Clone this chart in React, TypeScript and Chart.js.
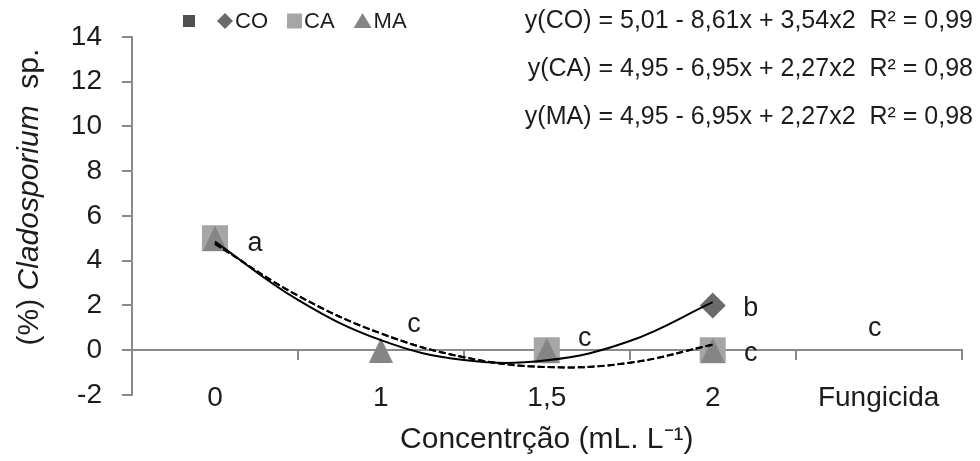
import React, { useEffect, useRef } from 'react';
import { Chart, registerables } from 'chart.js';

Chart.register(...registerables);

// ---------- data ----------
const categories = ['0', '1', '1,5', '2', 'Fungicida'];
const seriesNames = ['', 'CO', 'CA', 'MA'];
const blankValues: (number | null)[] = [null, null, null, null, null];
const coValues: (number | null)[] = [5, null, 0, 2, null];
const caValues: (number | null)[] = [5, null, 0, 0, null];
const maValues: (number | null)[] = [5, 0, 0, 0, null];
// polynomial trend lines (x = category position)
const trendX = [0, 0.5, 1, 1.5, 2, 2.5, 3];
const coTrend = [4.85, 2.25, 0.45, -0.44, -0.45, 0.41, 2.15];
const caTrend = [4.75, 2.44, 0.75, -0.31, -0.75, -0.56, 0.25];
const maTrend = [4.75, 2.44, 0.75, -0.31, -0.75, -0.56, 0.25];
const yMin = -2;
const yMax = 14;
const yStep = 2;
const equations = [
  'y(CO) = 5,01 - 8,61x + 3,54x2  R² = 0,99',
  'y(CA) = 4,95 - 6,95x + 2,27x2  R² = 0,98',
  'y(MA) = 4,95 - 6,95x + 2,27x2  R² = 0,98',
];
const sigLetters = ['a', 'c', 'c', 'b', 'c', 'c'];
const sigCats = [0, 1, 2, 3, 3, 4];
const sigValues = [4.75, 1.14, 0.54, 1.87, -0.15, 0.97];
const xTitle = 'Concentrção (mL. L⁻¹)';
const yTitleParts = ['(%) ', 'Cladosporium', '  sp.'];

// ---------- styles ----------
const FONT = '"Liberation Sans", Arial, sans-serif';
const TEXT = '#1c1c1c';
const AXIS = '#8a8a8a';
const C_DARK = '#505050';
const C_DIAMOND = '#6a6a6a';
const C_SQUARE = '#a6a6a6';
const C_TRI = '#858585';
const sigDx = [40, 33, 38, 38, 38, -4];
const eqY = [21, 69, 117];

function makeTriangle(w: number, h: number, color: string) {
  const c = document.createElement('canvas');
  c.width = w;
  c.height = h;
  const g = c.getContext('2d')!;
  g.fillStyle = color;
  g.beginPath();
  g.moveTo(0, h);
  g.lineTo(w / 2, 0);
  g.lineTo(w, h);
  g.closePath();
  g.fill();
  return c;
}

const overlayPlugin = {
  id: 'overlay',
  afterDraw(chart: any) {
    const ctx = chart.ctx as CanvasRenderingContext2D;
    const xs = chart.scales.x;
    const ys = chart.scales.y;
    ctx.save();
    ctx.fillStyle = TEXT;

    // legend
    const styles = [
      { shape: 'rect', color: C_DARK, size: 12 },
      { shape: 'diamond', color: C_DIAMOND, size: 16 },
      { shape: 'rect', color: C_SQUARE, size: 15 },
      { shape: 'triangle', color: C_TRI, size: 18 },
    ];
    let lx = 183;
    const ly = 21;
    ctx.font = `22px ${FONT}`;
    ctx.textBaseline = 'middle';
    ctx.textAlign = 'left';
    seriesNames.forEach((name, i) => {
      const st = styles[i];
      const s = st.size;
      ctx.fillStyle = st.color;
      ctx.beginPath();
      if (st.shape === 'rect') {
        ctx.rect(lx, ly - s / 2, s, s);
      } else if (st.shape === 'diamond') {
        ctx.moveTo(lx, ly);
        ctx.lineTo(lx + s / 2, ly - s / 2);
        ctx.lineTo(lx + s, ly);
        ctx.lineTo(lx + s / 2, ly + s / 2);
        ctx.closePath();
      } else {
        ctx.moveTo(lx, ly + 7);
        ctx.lineTo(lx + s / 2, ly - 8);
        ctx.lineTo(lx + s, ly + 7);
        ctx.closePath();
      }
      ctx.fill();
      ctx.fillStyle = TEXT;
      if (name) {
        ctx.fillText(name, lx + s + 2, ly + 1);
        lx = lx + s + 2 + ctx.measureText(name).width + 19;
      } else {
        lx = lx + s + 22;
      }
    });

    // equations
    ctx.font = `25px ${FONT}`;
    ctx.textAlign = 'right';
    equations.forEach((t, i) => ctx.fillText(t, 973, eqY[i]));

    // significance letters
    ctx.font = `27px ${FONT}`;
    ctx.textAlign = 'center';
    sigLetters.forEach((t, i) => {
      const px = xs.getPixelForValue(sigCats[i]) + sigDx[i];
      const py = ys.getPixelForValue(sigValues[i]);
      ctx.fillText(t, px, py);
    });

    // y axis title (mixed italic)
    ctx.translate(30, 197);
    ctx.rotate(-Math.PI / 2);
    const fonts = [`30px ${FONT}`, `italic 30px ${FONT}`, `30px ${FONT}`];
    let total = 0;
    yTitleParts.forEach((p, i) => {
      ctx.font = fonts[i];
      total += ctx.measureText(p).width;
    });
    let tx = -total / 2;
    ctx.textAlign = 'left';
    yTitleParts.forEach((p, i) => {
      ctx.font = fonts[i];
      ctx.fillText(p, tx, 0);
      tx += ctx.measureText(p).width;
    });
    ctx.restore();
  },
};

export default function App() {
  const ref = useRef<HTMLCanvasElement | null>(null);
  useEffect(() => {
    if (!ref.current) return;
    const tri = makeTriangle(24, 25, C_TRI);
    const toXY = (vals: number[]) => vals.map((v, i) => ({ x: trendX[i], y: v }));
    const trendBase = {
      borderColor: '#000', borderWidth: 2, pointRadius: 0, tension: 0.4, fill: false,
      order: 0, xAxisID: 'xt', yAxisID: 'y', parsing: true,
    };
    const chart = new Chart(ref.current, {
      type: 'line',
      data: {
        labels: categories,
        datasets: [
          { ...trendBase, label: 'CO trend', data: toXY(coTrend) },
          { ...trendBase, label: 'CA trend', data: toXY(caTrend), borderDash: [7, 3] },
          { ...trendBase, label: 'MA trend', data: toXY(maTrend), borderDash: [7, 3] },
          {
            label: seriesNames[3], data: maValues, showLine: false, pointStyle: tri as any,
            pointRadius: 12, pointBackgroundColor: C_TRI, pointBorderWidth: 0, order: 2, xAxisID: 'x', yAxisID: 'y',
          },
          {
            label: seriesNames[2], data: caValues, showLine: false, pointStyle: 'rect',
            pointRadius: 18.4, pointBackgroundColor: C_SQUARE, pointBorderWidth: 0, order: 3, xAxisID: 'x', yAxisID: 'y',
          },
          {
            label: seriesNames[1], data: coValues, showLine: false, pointStyle: 'rectRot',
            pointRadius: 13, pointBackgroundColor: C_DIAMOND, pointBorderWidth: 0, order: 4, xAxisID: 'x', yAxisID: 'y',
          },
          {
            label: seriesNames[0], data: blankValues, showLine: false, pointStyle: 'rect',
            pointRadius: 9, pointBackgroundColor: C_DARK, pointBorderWidth: 0, order: 5, xAxisID: 'x', yAxisID: 'y',
          },
        ],
      },
      options: {
        responsive: false,
        animation: false,
        events: [],
        layout: { padding: { left: 0, right: 5, top: 23, bottom: 66 } },
        plugins: { legend: { display: false }, tooltip: { enabled: false }, title: { display: false } },
        scales: {
          x: {
            type: 'category',
            axis: 'x',
            position: { y: yMin },
            offset: true,
            grid: { display: false, drawTicks: false },
            border: { display: false },
            ticks: { font: { size: 28, family: FONT }, color: TEXT, padding: -14, maxRotation: 0, autoSkip: false },
            title: {
              display: true, text: xTitle, color: TEXT,
              font: { size: 30, family: FONT }, padding: { top: 0, bottom: 3 },
            },
            afterFit: (s: any) => { s.height = 66; },
          },
          x2: {
            type: 'category',
            axis: 'x',
            position: { y: 0 },
            offset: true,
            grid: { offset: true, drawOnChartArea: false, drawTicks: true, tickLength: 9, color: AXIS, lineWidth: 2 },
            border: { display: true, color: AXIS, width: 2 },
            ticks: { display: false },
          },
          xt: {
            type: 'linear',
            axis: 'x',
            position: 'top',
            display: false,
            min: -0.5,
            max: categories.length - 0.5,
          },
          y: {
            type: 'linear',
            position: 'left',
            min: yMin,
            max: yMax,
            ticks: { stepSize: yStep, font: { size: 28, family: FONT }, color: TEXT, padding: 20 },
            grid: { drawOnChartArea: false, drawTicks: true, tickLength: 10, color: AXIS, lineWidth: 2 },
            border: { display: true, color: AXIS, width: 2 },
            afterFit: (s: any) => { s.width = 132; },
          },
        } as any,
      },
      plugins: [overlayPlugin],
    } as any);
    return () => chart.destroy();
  }, []);
  return (
    <div style={{ position: 'fixed', left: 0, top: 0, width: 980, height: 461, background: '#fff' }}>
      <canvas ref={ref} width={980} height={461} style={{ display: 'block' }} />
    </div>
  );
}
